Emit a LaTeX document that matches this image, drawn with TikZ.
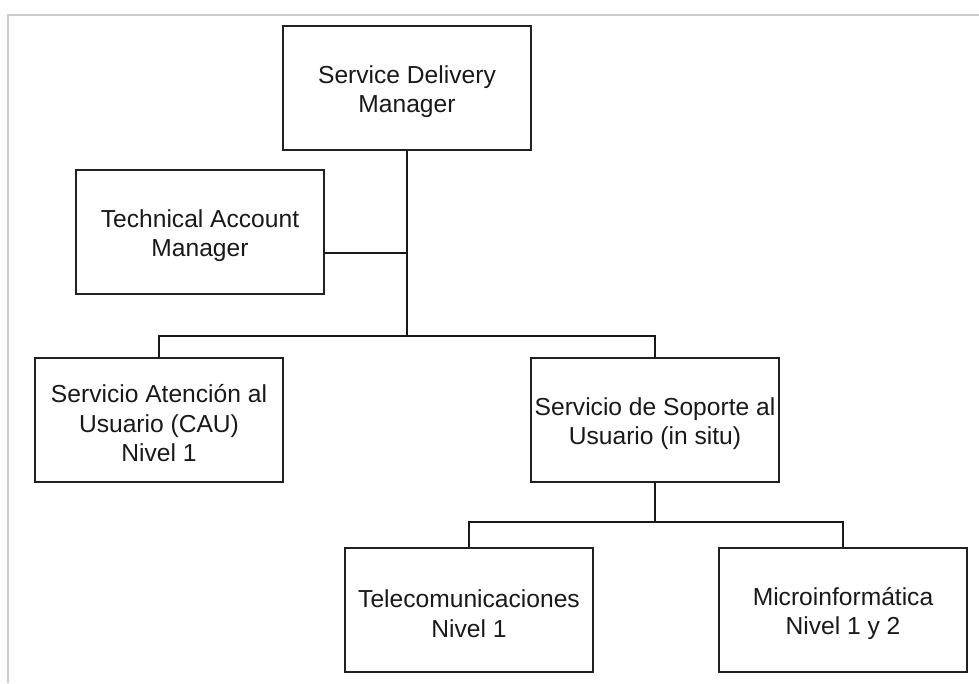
\documentclass[tikz,border=0pt]{standalone}
\usepackage{fontspec}
\setmainfont{Liberation Sans}
\begin{document}
\begin{tikzpicture}[x=1pt,y=-1pt,
  box/.style={draw=black!87, line width=1.8pt, rectangle, minimum width=248pt, minimum height=124pt,
    inner sep=0pt},
  boxtext/.style={align=center, inner sep=0pt, text=black!90, yshift=-3.5pt,
    font=\fontsize{24.6}{29.5}\selectfont},
  link/.style={draw=black!90, line width=1.8pt},
  frame/.style={draw=black!20, line width=2pt}]
\useasboundingbox (0,0) rectangle (979,683);
\draw[frame] (8,683) -- (8,15) -- (979,15);
\node[box, label={[boxtext]center:Service Delivery\\Manager}] (sdm) at (407,88) {};
\node[box, label={[boxtext]center:Technical Account\\Manager}] (tam) at (200,232) {};
\node[box, label={[boxtext]center:Servicio Atención al\\Usuario (CAU)\\Nivel 1}] (sau) at (159,420) {};
\node[box, label={[boxtext]center:Servicio de Soporte al\\Usuario (in situ)}] (ssu) at (655,420) {};
\node[box, label={[boxtext]center:Telecomunicaciones\\Nivel 1}] (tel) at (469,610) {};
\node[box, label={[boxtext]center:Microinformática\\Nivel 1 y 2}] (mic) at (843,610) {};
\coordinate (j1) at (407,336);
\coordinate (j2) at (655,522);
\coordinate (jt) at (407,253);
\draw[link] (sdm.south) -- (j1);
\draw[link] (tam.east |- jt) -- (jt);
\draw[link] (sau.north) |- (j1) -| (ssu.north);
\draw[link] (ssu.south) -- (j2);
\draw[link] (tel.north) |- (j2) -| (mic.north);
\end{tikzpicture}
\end{document}
